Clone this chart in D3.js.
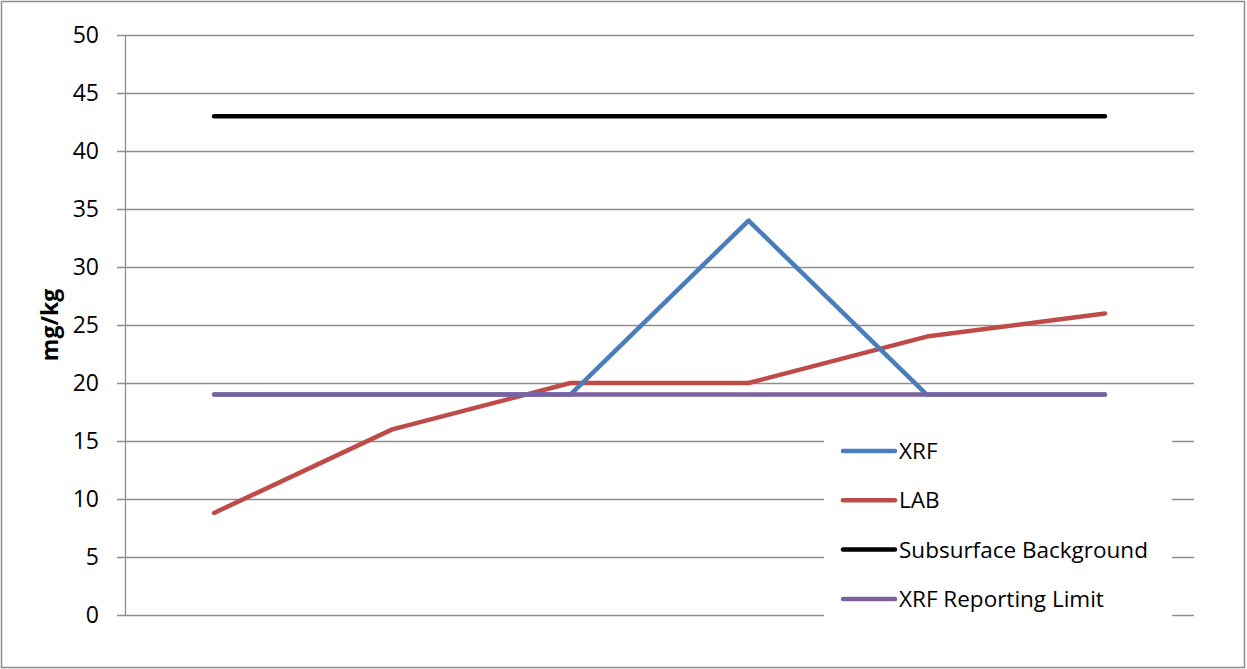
<!DOCTYPE html>
<html><head><meta charset="utf-8">
<script src="https://cdn.jsdelivr.net/npm/d3@7"></script>
<style>body{margin:0;background:#fff}svg{display:block}text{font-family:"Open Sans","Noto Sans",sans-serif;fill:#000}</style>
</head><body>
<svg id="c" width="1247" height="669"></svg>
<script>
const categories = ["1","2","3","4","5","6"];
const xrf = [19,19,19,34,19,19];
const lab = [8.8,16,20,20,24,26];
const subsurface = [43,43,43,43,43,43];
const reportingLimit = [19,19,19,19,19,19];
const yTicks = [0,5,10,15,20,25,30,35,40,45,50];
const seriesNames = ["XRF","LAB","Subsurface Background","XRF Reporting Limit"];
const seriesColors = ["#4A7EBB","#BE4B48","#000000","#7D60A0"];

const svg = d3.select("#c");
svg.append("rect").attr("x",1.5).attr("y",1.5).attr("width",1243).attr("height",666)
  .attr("fill","#fff").attr("stroke","#8c8c8c").attr("stroke-width",1.5);

const L=125,R=1194,T=35,B=615;
const x = d3.scaleBand().domain(categories).range([L,R]);
const y = d3.scaleLinear().domain([0,50]).range([B,T]);

svg.append("g").selectAll("line").data(yTicks).join("line")
  .attr("x1",L-8).attr("x2",R).attr("y1",d=>y(d)+0.5).attr("y2",d=>y(d)+0.5)
  .attr("stroke","#8e8e8e").attr("stroke-width",1.3);
svg.append("line").attr("x1",L+0.5).attr("x2",L+0.5).attr("y1",T).attr("y2",B+0.5)
  .attr("stroke","#8e8e8e").attr("stroke-width",1.3);
const yAxis = d3.axisLeft(y).tickValues(yTicks).tickSize(0).tickPadding(26);
const ga = svg.append("g").attr("transform",`translate(${L},0)`).call(yAxis);
ga.select(".domain").remove();
ga.selectAll("text").attr("font-size",23).attr("font-family","Open Sans").attr("fill","#000");

svg.append("text").attr("transform",`translate(58,${(T+B)/2}) rotate(-90)`).attr("text-anchor","middle")
  .attr("font-size",23).attr("font-weight","bold").text("mg/kg");

const cx = d => x(d)+x.bandwidth()/2;
const line = d3.line().x((d,i)=>cx(categories[i])).y(d=>y(d));
const data = [xrf,lab,subsurface,reportingLimit];
const order = [1,0,2,3];
order.forEach(i=>{
  svg.append("path").datum(data[i]).attr("d",line).attr("fill","none")
    .attr("stroke",seriesColors[i]).attr("stroke-width",4.5)
    .attr("stroke-linecap","round").attr("stroke-linejoin","round");
});

const lg = svg.append("g");
lg.append("rect").attr("x",824).attr("y",425).attr("width",348).attr("height",205).attr("fill","#fff");
seriesNames.forEach((n,i)=>{
  const yy = 451 + i*49.3;
  lg.append("line").attr("x1",843).attr("x2",895).attr("y1",yy).attr("y2",yy)
    .attr("stroke",seriesColors[i]).attr("stroke-width",4.5).attr("stroke-linecap","round");
  lg.append("text").attr("x",899).attr("y",yy+8).attr("font-size",22.5).text(n);
});
</script>
</body></html>
